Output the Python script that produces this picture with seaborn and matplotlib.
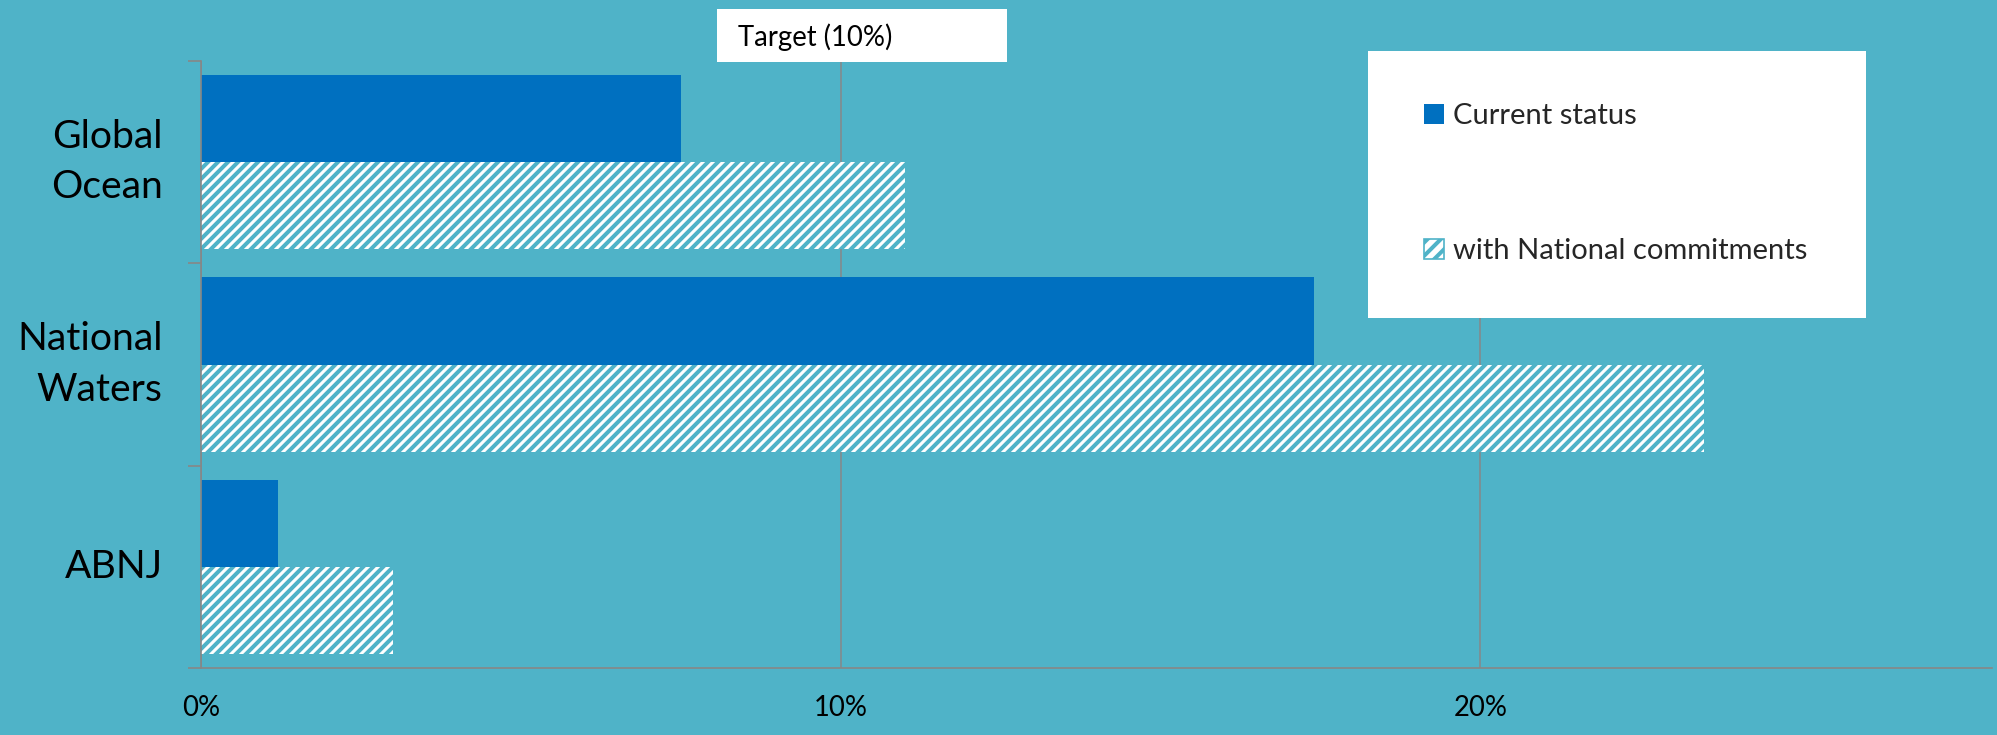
import matplotlib
matplotlib.use("Agg")
import matplotlib.pyplot as plt
from matplotlib.patches import Patch, Rectangle
from matplotlib.ticker import FuncFormatter, FixedLocator
import seaborn as sns
import pandas as pd

# Marine protected area coverage (% of area)
regions = ["Global\nOcean", "National\nWaters", "ABNJ"]
current_status = [7.5, 17.4, 1.2]
with_commitments = [11.0, 23.5, 3.0]
series_names = ["Current status", "with National commitments"]
target_label = "Target (10%)"
x_ticks = [0, 10, 20]

BG = "#4FB3C8"
BLUE = "#0070C0"
GREY = "#878787"
FONT = ["Lato", "DejaVu Sans"]
HATCH = "////"

sns.set_theme(style="white")
plt.rcParams["font.family"] = FONT
plt.rcParams["hatch.linewidth"] = 2.4
plt.rcParams["hatch.color"] = BG

df = pd.DataFrame({
    "region": regions * 2,
    "value": current_status + with_commitments,
    "series": [series_names[0]] * len(regions) + [series_names[1]] * len(regions),
})

W, H, DPI = 1997, 735, 120
fig = plt.figure(figsize=(W / DPI, H / DPI), dpi=DPI, facecolor=BG)
ax = fig.add_axes([201 / W, (H - 668) / H, (1992 - 201) / W, (668 - 61) / H])
ax.set_facecolor(BG)

sns.barplot(data=df, y="region", x="value", hue="series", orient="h",
            palette=[BLUE, "white"], width=0.86, gap=0, dodge=True,
            saturation=1, ax=ax, legend=False, zorder=3)

# second series: white bars with diagonal stripes
n = len(regions)
for i, bar in enumerate(ax.patches):
    bar.set_linewidth(0)
    if i >= n:
        bar.set_facecolor("white")
        bar.set_edgecolor(BG)
        bar.set_hatch(HATCH)

ax.set_xlim(0, 28)
ax.set_ylim(2.5, -0.5)
ax.set_xlabel("")
ax.set_ylabel("")

ax.xaxis.set_major_locator(FixedLocator(x_ticks))
ax.xaxis.set_major_formatter(FuncFormatter(lambda v, p: f"{v:.0f}%"))
ax.tick_params(axis="x", length=0, pad=16, labelsize=16.5, labelcolor="black")

# category boundaries carry tick marks, names sit between them
ax.yaxis.set_major_locator(FixedLocator([-0.5, 0.5, 1.5, 2.5]))
ax.set_yticklabels([], minor=False)
ax.set_yticks([0, 1, 2], labels=regions, minor=True)
ax.tick_params(axis="y", which="major", direction="out", length=7.8,
               width=1.0, color=GREY, left=True)
ax.tick_params(axis="y", which="minor", length=0, pad=23, labelsize=23.5,
               labelcolor="black")
for lbl in ax.get_yticklabels(minor=True):
    lbl.set_linespacing(1.5)
    lbl.set_horizontalalignment("right")
    lbl.set_verticalalignment("center")

ax.grid(axis="x", color=GREY, linewidth=0.9)
ax.grid(axis="y", visible=False)
ax.set_axisbelow(True)
for side in ("top", "right"):
    ax.spines[side].set_visible(False)
for side in ("left", "bottom"):
    ax.spines[side].set_color(GREY)
    ax.spines[side].set_linewidth(1.0)
    ax.spines[side].set_zorder(4)

# target label box above the 10% line
fig.patches.append(Rectangle((717 / W, (H - 62) / H), (1007 - 717) / W, 53 / H,
                             transform=fig.transFigure, facecolor="white",
                             edgecolor="none"))
fig.text(738 / W, (H - 37) / H, target_label, ha="left", va="center",
         fontsize=16.5, color="black")

# legend panel
fig.patches.append(Rectangle((1368 / W, (H - 318) / H), (1866 - 1368) / W, 267 / H,
                             transform=fig.transFigure, facecolor="white",
                             edgecolor="none"))
handles = [
    Patch(facecolor=BLUE, edgecolor="none", linewidth=0),
    Patch(facecolor="white", edgecolor=BG, linewidth=1.0, hatch="///"),
]
fig.legend(handles, series_names, loc="upper left",
           bbox_to_anchor=(1424 / W, (H - 103) / H), frameon=False,
           fontsize=17.5, handlelength=0.7, handleheight=0.7,
           handletextpad=0.3, labelspacing=3.75, borderpad=0, borderaxespad=0)

fig.savefig("out.png", dpi=DPI, facecolor=BG)
